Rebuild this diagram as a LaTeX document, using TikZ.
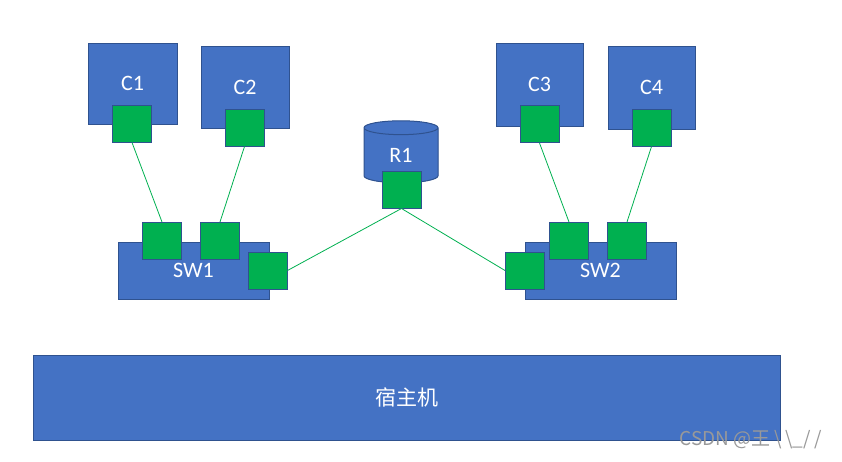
\documentclass[tikz,border=0pt]{standalone}
\usepackage{fontspec}
\setmainfont{Carlito}
\newfontfamily\cjk{Noto Sans CJK SC}
\usetikzlibrary{shapes.geometric}
\definecolor{boxblue}{HTML}{4472C4}
\definecolor{edgeblue}{HTML}{2F528F}
\definecolor{topblue}{HTML}{8FAADC}
\definecolor{portgreen}{HTML}{00B050}
\tikzset{
	unit/.style={draw=edgeblue, line width=1pt, fill=boxblue, text=white,
		font=\fontsize{22}{26}\selectfont, inner sep=0pt},
	port/.style={draw=edgeblue, line width=1pt, fill=portgreen,
		minimum width=39pt, minimum height=37pt, inner sep=0pt},
	wire/.style={portgreen, line width=0.8pt}
}

\begin{document}
\begin{tikzpicture}[x=1pt, y=-1pt]
		%%%%% START %%%%%
		\useasboundingbox (0, 0) rectangle (842, 461);
		
		% containers
		\node[unit, minimum width=89pt, minimum height=81pt] (c1) at (132.5, 83.5) {C1};
		\node[unit, minimum width=88pt, minimum height=82pt] (c2) at (245, 87) {C2};
		\node[unit, minimum width=87pt, minimum height=83pt] (c3) at (539.5, 84.5) {C3};
		\node[unit, minimum width=87pt, minimum height=83pt] (c4) at (651.5, 87.5) {C4};
		
		\node[port] (c1p) at (132, 123.5) {};
		\node[port] (c2p) at (244.5, 127.5) {};
		\node[port] (c3p) at (539.5, 124) {};
		\node[port] (c4p) at (651.5, 127.5) {};
		
		% router
		\node[unit, cylinder, shape border rotate=90, aspect=0.6, cylinder uses custom fill,
			cylinder body fill=boxblue, cylinder end fill=topblue,
			minimum width=74pt, minimum height=62pt] (r1) at (401, 155.5) {R1};
		\node[port] (r1p) at (401.5, 189.5) {};
		
		% switches
		\node[unit, minimum width=151pt, minimum height=57pt] (sw1) at (193.5, 270.5) {SW1};
		\node[unit, minimum width=151pt, minimum height=57pt] (sw2) at (600.5, 270.5) {SW2};
		
		\node[port] (sw1a) at (162, 241) {};
		\node[port] (sw1b) at (220, 241) {};
		\node[port] (sw1c) at (267.5, 270.5) {};
		\node[port] (sw2a) at (525, 270.5) {};
		\node[port] (sw2b) at (569, 241) {};
		\node[port] (sw2c) at (627, 241) {};
		
		% host
		\node[unit, minimum width=747pt, minimum height=85pt, font=\cjk\fontsize{21}{25}\selectfont] (host) at (406.5, 397.5) {宿主机};
		
		% links
		\draw[wire] (c1p.south) -- (sw1a.north);
		\draw[wire] (c2p.south) -- (sw1b.north);
		\draw[wire] (c3p.south) -- (sw2b.north);
		\draw[wire] (c4p.south) -- (sw2c.north);
		\draw[wire] (sw1c.east) -- (r1p.south);
		\draw[wire] (r1p.south) -- (sw2a.west);
		
		\node[text=black!40, font=\cjk\fontsize{19}{22}\selectfont, anchor=west] (mark) at (676, 440) {CSDN @王 \textbackslash\,\textbackslash\_/\,/};
		%%%%% END %%%%%
	\end{tikzpicture}
\end{document}
